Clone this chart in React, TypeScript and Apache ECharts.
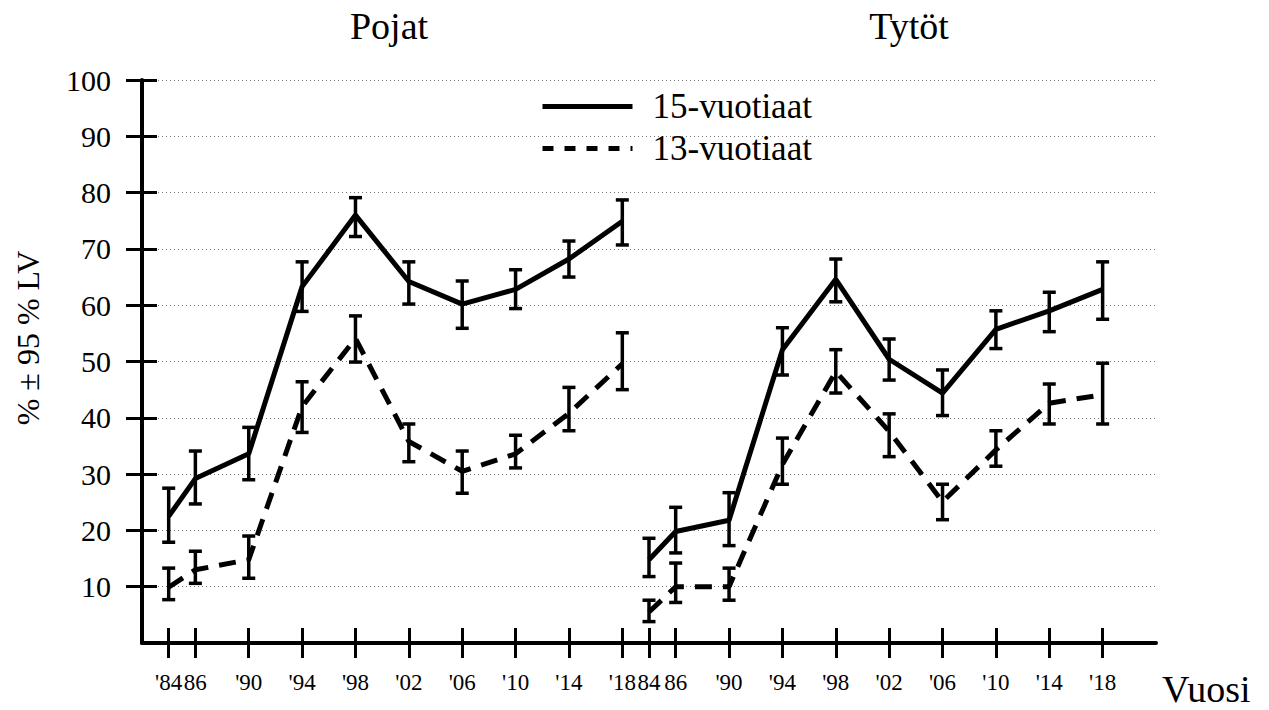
import React, { useEffect, useRef } from 'react';
import * as echarts from 'echarts';

const FONT = 'Liberation Serif';

// ---- data ----
const surveyYears = [1984, 1986, 1990, 1994, 1998, 2002, 2006, 2010, 2014, 2018];
// tick labels as they appear under each panel (crowded labels lose their apostrophe)
const boysTickLabels = ["'84", '86', "'90", "'94", "'98", "'02", "'06", "'10", "'14", "'18"];
const girlsTickLabels = ['84', '86', "'90", "'94", "'98", "'02", "'06", "'10", "'14", "'18"];
const panelTitles = ['Pojat', 'Tytöt'];
const ageGroups = ['15-vuotiaat', '13-vuotiaat'];
const yTickValues = [10, 20, 30, 40, 50, 60, 70, 80, 90, 100];

// Pojat (boys)
const boys15 = [22.5, 29.2, 33.6, 63.3, 76.0, 64.2, 60.2, 62.8, 68.2, 74.9];
const boys15Low = [17.9, 24.7, 29.0, 58.9, 72.2, 60.2, 55.9, 59.4, 65.0, 70.7];
const boys15High = [27.5, 34.1, 38.3, 67.7, 79.1, 67.7, 64.3, 66.3, 71.4, 78.7];
const boys13 = [9.9, 13.0, 14.8, 42.0, 54.1, 35.8, 30.5, 33.6, 40.8, 49.6];
const boys13Low = [7.7, 10.6, 11.5, 37.4, 49.9, 32.2, 26.6, 31.1, 37.7, 45.0];
const boys13High = [13.3, 16.3, 19.0, 46.4, 58.1, 38.9, 34.1, 36.9, 45.4, 55.1];

// Tytöt (girls)
const girls15 = [14.8, 19.8, 21.8, 52.1, 64.6, 50.4, 44.4, 55.7, 59.0, 62.8];
const girls15Low = [11.8, 16.0, 17.3, 47.6, 60.6, 46.7, 40.4, 52.3, 55.3, 57.5];
const girls15High = [18.6, 24.1, 26.7, 56.0, 68.2, 54.0, 48.5, 59.0, 62.3, 67.7];
const girls13 = [5.5, 10.0, 10.0, 31.7, 48.2, 37.6, 25.1, 34.3, 42.6, 44.1];
const girls13Low = [3.8, 7.2, 7.6, 28.2, 44.4, 33.1, 21.9, 31.4, 38.9, 38.9];
const girls13High = [7.6, 14.2, 13.3, 36.4, 52.1, 40.7, 28.2, 37.7, 46.0, 49.7];

// the second panel continues on the same axis, shifted by this many years
const PANEL_SHIFT = 36;

const panelTickLabels = [boysTickLabels, girlsTickLabels];
const panelData = [
  [
    { mean: boys15, low: boys15Low, high: boys15High },
    { mean: boys13, low: boys13Low, high: boys13High },
  ],
  [
    { mean: girls15, low: girls15Low, high: girls15High },
    { mean: girls13, low: girls13Low, high: girls13High },
  ],
];

export default function App() {
  const ref = useRef<HTMLDivElement>(null);

  useEffect(() => {
    if (!ref.current) return;
    const chart = echarts.init(ref.current, undefined, { renderer: 'svg' });

    const xPos = (p: number, i: number) => surveyYears[i] - surveyYears[0] + p * PANEL_SHIFT;
    const xTicks: number[] = [];
    const labelMap = new Map<number, string>();
    panelTitles.forEach((_, p) =>
      surveyYears.forEach((_, i) => {
        const t = xPos(p, i);
        xTicks.push(t);
        labelMap.set(t, panelTickLabels[p][i]);
      })
    );

    const series: any[] = [];
    panelData.forEach((groups, p) => {
      groups.forEach((g, a) => {
        series.push({
          type: 'line',
          name: ageGroups[a],
          data: g.mean.map((v, i) => [xPos(p, i), v]),
          symbol: 'none',
          showSymbol: false,
          lineStyle: { color: '#000', width: 5, type: a === 0 ? 'solid' : [17, 11] },
          itemStyle: { color: '#000' },
          z: 3,
          silent: true,
        });
        series.push({
          type: 'custom',
          name: 'err-' + p + '-' + a,
          data: g.mean.map((_, i) => [xPos(p, i), g.low[i], g.high[i]]),
          encode: { x: 0, y: [1, 2] },
          z: 4,
          silent: true,
          renderItem: (params: any, api: any) => {
            const x = api.value(0);
            const lo = api.coord([x, api.value(1)]);
            const hi = api.coord([x, api.value(2)]);
            const hw = 6.5;
            const st = { stroke: '#000', lineWidth: 3.5 };
            return {
              type: 'group',
              children: [
                { type: 'line', shape: { x1: lo[0], y1: lo[1], x2: hi[0], y2: hi[1] }, style: st },
                { type: 'line', shape: { x1: lo[0] - hw, y1: lo[1], x2: lo[0] + hw, y2: lo[1] }, style: st },
                { type: 'line', shape: { x1: hi[0] - hw, y1: hi[1], x2: hi[0] + hw, y2: hi[1] }, style: st },
              ],
            };
          },
        });
      });
    });

    const tickStyle = { color: '#000', width: 3 };

    chart.setOption({
      animation: false,
      backgroundColor: '#fff',
      grid: { left: 142, right: 113, top: 80, bottom: 67, containLabel: false },
      legend: {
        left: 535,
        top: 84,
        orient: 'vertical',
        itemWidth: 90,
        itemHeight: 14,
        itemGap: 7,
        selectedMode: false,
        itemStyle: { color: 'rgba(0,0,0,0)', borderWidth: 0, opacity: 0 },
        lineStyle: { width: 5, color: '#000' },
        textStyle: { fontSize: 35, fontFamily: FONT, color: '#000', padding: [0, 0, 0, 15] },
        data: [
          { name: ageGroups[0], lineStyle: { width: 5, type: 'solid' } },
          { name: ageGroups[1], lineStyle: { width: 5, type: [11, 11] } },
        ],
      },
      xAxis: [
        {
          type: 'value',
          min: -2,
          max: 74,
          position: 'bottom',
          axisLine: { show: true, onZero: false, lineStyle: { color: '#000', width: 4 } },
          axisTick: { show: true, inside: false, length: 15, lineStyle: tickStyle, customValues: xTicks },
          axisLabel: {
            customValues: xTicks,
            formatter: (v: number) => labelMap.get(v) ?? '',
            showMinLabel: true,
            showMaxLabel: true,
            hideOverlap: false,
            fontSize: 23,
            fontFamily: FONT,
            color: '#000',
            margin: 28,
          },
          splitLine: { show: false },
        },
        {
          type: 'value',
          min: -2,
          max: 74,
          position: 'bottom',
          axisLine: { show: false, onZero: false },
          axisTick: { show: true, inside: true, length: 15, lineStyle: tickStyle, customValues: xTicks },
          axisLabel: { show: false },
          splitLine: { show: false },
        },
      ],
      yAxis: [
        {
          type: 'value',
          min: 0,
          max: 100,
          interval: 10,
          position: 'left',
          axisLine: { show: true, onZero: false, lineStyle: { color: '#000', width: 4 } },
          axisTick: { show: true, inside: false, length: 16, lineStyle: tickStyle, customValues: yTickValues },
          axisLabel: {
            customValues: yTickValues,
            showMinLabel: true,
            showMaxLabel: true,
            fontSize: 30,
            fontFamily: FONT,
            color: '#000',
            margin: 31,
          },
          splitLine: { show: true, lineStyle: { type: [1, 3], color: '#777', width: 1 } },
        },
        {
          type: 'value',
          min: 0,
          max: 100,
          interval: 10,
          position: 'left',
          axisLine: { show: false, onZero: false },
          axisTick: { show: true, inside: true, length: 15, lineStyle: tickStyle, customValues: yTickValues },
          axisLabel: { show: false },
          splitLine: { show: false },
        },
      ],
      graphic: [
        {
          type: 'text',
          x: 389,
          y: 26,
          style: { text: panelTitles[0], fontSize: 38, fontFamily: FONT, fill: '#000', align: 'center', verticalAlign: 'middle' },
        },
        {
          type: 'text',
          x: 909,
          y: 26,
          style: { text: panelTitles[1], fontSize: 38, fontFamily: FONT, fill: '#000', align: 'center', verticalAlign: 'middle' },
        },
        {
          type: 'text',
          x: 1162,
          y: 689,
          style: { text: 'Vuosi', fontSize: 38, fontFamily: FONT, fill: '#000', align: 'left', verticalAlign: 'middle' },
        },
        {
          type: 'text',
          x: 28,
          y: 338,
          rotation: Math.PI / 2,
          style: { text: '% ± 95 % LV', fontSize: 32, fontFamily: FONT, fill: '#000', align: 'center', verticalAlign: 'middle' },
        },
      ],
      series,
    });

    return () => chart.dispose();
  }, []);

  return (
    <div
      ref={ref}
      style={{ position: 'absolute', left: 0, top: 0, width: 1269, height: 710, background: '#fff' }}
    />
  );
}
